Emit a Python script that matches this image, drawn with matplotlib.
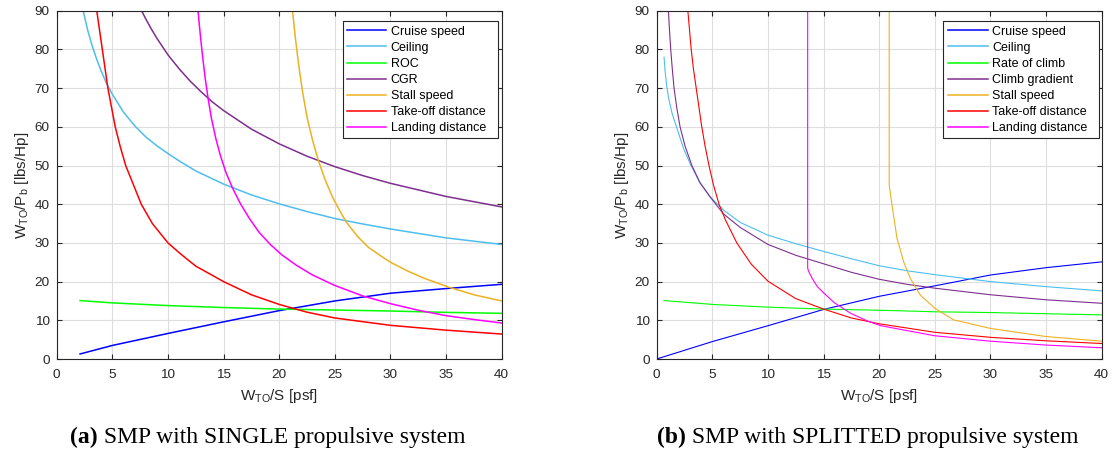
import matplotlib
matplotlib.use("Agg")
import matplotlib.pyplot as plt
from matplotlib.patches import Rectangle
from matplotlib.text import Annotation

# ---------------- (a) single propulsive system ----------------
a_cruise_x = [2.1, 5, 10, 15, 20, 25, 30, 35, 40]
a_cruise_y = [1.3, 3.5, 6.6, 9.6, 12.5, 15.0, 17.0, 18.2, 19.3]

a_ceiling_x = [2.4, 2.8, 3.2, 3.6, 4.0, 4.45, 5, 6, 7, 8, 9, 10, 11, 12.5, 15, 17.5,
               20, 22.5, 25, 27.5, 30, 35, 40]
a_ceiling_y = [89.7, 84.8, 80.8, 77.4, 74.4, 71.4, 68.4, 63.8, 60.3, 57.4, 55.1, 53.1,
               51.2, 48.6, 45.2, 42.4, 40.1, 38.1, 36.3, 34.9, 33.6, 31.3, 29.6]

a_roc_x = [2.1, 5, 10, 15, 20, 25, 30, 35, 40]
a_roc_y = [15.1, 14.5, 13.8, 13.3, 12.9, 12.65, 12.4, 12.05, 11.8]

a_cgr_x = [7.63, 8, 8.5, 9, 10, 11, 12, 13, 14, 15, 17.5, 20, 22.5, 25, 27.5, 30, 35, 40]
a_cgr_y = [90, 87.9, 85.3, 82.9, 78.6, 75.0, 71.8, 69.0, 66.4, 64.2, 59.4, 55.6, 52.4,
           49.7, 47.4, 45.4, 42.0, 39.3]

a_stall_x = [21.2, 21.45, 21.75, 22.1, 22.5, 23.0, 23.5, 24.1, 24.8, 25.5, 26.05, 27, 28,
             29, 30, 31.5, 33, 35.3, 37.5, 40]
a_stall_y = [90, 83, 76, 69, 62.5, 56.5, 51.5, 46.5, 41.8, 38.0, 35.3, 31.8, 28.9, 26.9,
             25.0, 22.8, 20.9, 18.5, 16.6, 15.0]

a_takeoff_x = [3.6, 3.85, 4.1, 4.6, 5.26, 5.7, 6.2, 6.9, 7.6, 8.6, 10, 11.2, 12.5, 15,
               17.5, 20, 22.5, 25, 30, 35, 40]
a_takeoff_y = [90, 85, 80, 70, 60, 55, 50, 45, 40, 35, 30, 27, 24, 20, 16.6, 14.1, 12.1,
               10.6, 8.7, 7.45, 6.45]

a_landing_x = [12.7, 12.9, 13.1, 13.35, 13.6, 13.9, 14.3, 14.7, 15.2, 15.8, 16.5, 17.3,
               18.2, 19.2, 20.2, 21.5, 23, 25, 27.5, 30, 32.5, 35, 37.5, 40]
a_landing_y = [90, 84, 78.5, 72.5, 67.5, 62.3, 57, 52.7, 48.3, 44.2, 40.2, 36.4, 32.7,
               29.6, 27.0, 24.3, 21.7, 19.0, 16.3, 14.3, 12.6, 11.2, 10.2, 9.3]

a_labels = ["Cruise speed", "Ceiling", "ROC", "CGR", "Stall speed",
            "Take-off distance", "Landing distance"]

# ---------------- (b) splitted propulsive system ----------------
b_cruise_x = [0, 5, 10, 15, 20, 25, 30, 35, 40]
b_cruise_y = [0, 4.5, 8.6, 12.8, 16.2, 18.9, 21.7, 23.6, 25.1]

b_ceiling_x = [0.66, 0.75, 0.9, 1.1, 1.4, 1.8, 2.4, 3.0, 3.8, 4.8, 6, 7.5, 10, 12.5, 15,
               17.5, 20, 22.5, 25, 30, 35, 40]
b_ceiling_y = [78, 74.5, 70.5, 67, 63.3, 59.8, 54.5, 50.5, 46, 41.9, 38.5, 35.3, 32.0,
               29.8, 27.8, 25.9, 24.1, 22.8, 21.8, 20.0, 18.7, 17.6]

b_roc_x = [0.66, 5, 10, 15, 20, 25, 30, 35, 40]
b_roc_y = [15.1, 14.1, 13.4, 12.9, 12.6, 12.2, 12.0, 11.7, 11.4]

b_climb_x = [1.05, 1.15, 1.26, 1.4, 1.56, 1.8, 2.1, 2.55, 3.16, 3.9, 4.8, 6, 7.5, 10,
             12.5, 15, 17.5, 20, 22.5, 25, 30, 35, 40]
b_climb_y = [90, 85, 80, 75, 70, 65, 60, 55, 50, 45.5, 41.9, 37.5, 34.0, 29.6, 26.8,
             24.6, 22.4, 20.6, 19.3, 18.3, 16.6, 15.3, 14.4]

b_stall_x = [20.9, 20.9, 21.15, 21.6, 22.2, 22.8, 23.7, 25, 26.7, 30, 35, 40]
b_stall_y = [90, 44.9, 39.8, 31.2, 25.1, 20.8, 16.5, 13.1, 10.1, 7.9, 5.8, 4.6]

b_takeoff_x = [2.8, 2.95, 3.1, 3.3, 3.55, 3.8, 4.05, 4.35, 4.7, 5.1, 5.6, 6.2, 7.2, 8.5,
               10, 12.5, 15, 17.5, 20, 25, 30, 35, 40]
b_takeoff_y = [90, 85, 80, 75, 70, 65, 60, 55, 50, 45, 40, 35.8, 30, 24.5, 20.1, 15.6,
               12.9, 10.6, 9.1, 6.9, 5.6, 4.7, 4.0]

b_landing_x = [13.57, 13.57, 13.68, 13.98, 14.44, 15.04, 15.94, 17.44, 18.95, 20.15, 25,
               30, 35, 40]
b_landing_y = [90, 23.4, 22.5, 20.8, 18.7, 17.0, 14.6, 11.8, 9.8, 8.6, 6.0, 4.6, 3.6, 2.9]

b_labels = ["Cruise speed", "Ceiling", "Rate of climb", "Climb gradient",
            "Stall speed", "Take-off distance", "Landing distance"]

x_ticks = [0, 5, 10, 15, 20, 25, 30, 35, 40]
y_ticks = [0, 10, 20, 30, 40, 50, 60, 70, 80, 90]

colors = ["#0000FF", "#4DBEEE", "#00FF00", "#7E2F8E", "#EDB120", "#FF0000", "#FF00FF"]

plt.rcParams["font.family"] = ["Liberation Sans", "DejaVu Sans"]
plt.rcParams["mathtext.fontset"] = "custom"
plt.rcParams["mathtext.rm"] = "Liberation Sans"
plt.rcParams["mathtext.it"] = "Liberation Sans"

DARK = "#262626"
W, H = 1112, 455
fig = plt.figure(figsize=(W / 100, H / 100), dpi=100)

AX_W, AX_H = 445.0, 348.3


def make_axes(left_px):
    return fig.add_axes([left_px / W, (H - 359) / H, AX_W / W, AX_H / H])


def style(ax):
    ax.set_xlim(0, 40)
    ax.set_ylim(0, 90)
    ax.set_xticks(x_ticks)
    ax.set_yticks(y_ticks)
    ax.grid(True, color="#dedede", linewidth=0.8)
    ax.set_axisbelow(True)
    ax.tick_params(direction="in", length=3.5, width=0.8, colors=DARK,
                   labelsize=9.7, top=True, right=True)
    ax.tick_params(axis="x", pad=7.5)
    ax.tick_params(axis="y", pad=5)
    for s in ax.spines.values():
        s.set_color(DARK)
        s.set_linewidth(0.8)
    ax.set_xlabel(r"W$_{\mathrm{TO}}$/S [psf]", fontsize=11, color=DARK)
    ax.set_ylabel(r"W$_{\mathrm{TO}}$/P$_{\mathrm{b}}$ [lbs/Hp]", fontsize=11, color=DARK)
    ax.xaxis.set_label_coords(0.5, -(387 - 359) / AX_H)
    ax.xaxis.label.set_va("top")
    ax.yaxis.set_label_coords(-(56.7 - 31) / AX_W, 0.5)


def add_legend(ax, handles, labels, frame_px, handle_x_px, lw):
    x0, y0, x1, y1 = frame_px
    box = Rectangle((x0 / W, (H - y1) / H), (x1 - x0) / W, (y1 - y0) / H,
                    transform=fig.transFigure, facecolor="white", edgecolor=DARK,
                    linewidth=0.8, zorder=4, clip_on=False)
    ax.add_artist(box)
    leg = ax.legend(handles, labels, loc="upper left",
                    bbox_to_anchor=(handle_x_px / W, (H - 25.7) / H),
                    bbox_transform=fig.transFigure,
                    borderaxespad=0, borderpad=0, fontsize=9, frameon=False,
                    handlelength=3.15, handletextpad=0.35, labelspacing=0.33)
    leg.set_zorder(5)
    for ln in leg.get_lines():
        ln.set_linewidth(lw)


# panel (a)
ax1 = make_axes(56.7)
a_series = [(a_cruise_x, a_cruise_y), (a_ceiling_x, a_ceiling_y), (a_roc_x, a_roc_y),
            (a_cgr_x, a_cgr_y), (a_stall_x, a_stall_y), (a_takeoff_x, a_takeoff_y),
            (a_landing_x, a_landing_y)]
h1 = []
for (xs, ys), c in zip(a_series, colors):
    h1 += ax1.plot(xs, ys, color=c, linewidth=1.1)
style(ax1)
add_legend(ax1, h1, a_labels, (343, 21, 498, 138), 347, 1.1)

# panel (b)
ax2 = make_axes(656.7)
b_series = [(b_cruise_x, b_cruise_y), (b_ceiling_x, b_ceiling_y), (b_roc_x, b_roc_y),
            (b_climb_x, b_climb_y), (b_stall_x, b_stall_y), (b_takeoff_x, b_takeoff_y),
            (b_landing_x, b_landing_y)]
h2 = []
for (xs, ys), c in zip(b_series, colors):
    h2 += ax2.plot(xs, ys, color=c, linewidth=0.8)
style(ax2)
add_legend(ax2, h2, b_labels, (943, 21, 1099, 138), 948.3, 1.1)


# sub-figure captions: bold tag followed by regular text
def caption(x_px, tag, rest):
    t = fig.text(x_px / W, (H - 443) / H, tag, fontsize=17, fontweight="bold",
                 family="Liberation Serif", ha="left", va="baseline")
    ann = Annotation(rest, xy=(1, 0), xycoords=t, xytext=(0, 0),
                     textcoords="offset points", fontsize=17,
                     family="Liberation Serif", ha="left", va="bottom")
    fig.add_artist(ann)


caption(70, "(a)", " SMP with SINGLE propulsive system")
caption(657, "(b)", " SMP with SPLITTED propulsive system")

fig.savefig("out.png", dpi=100)
